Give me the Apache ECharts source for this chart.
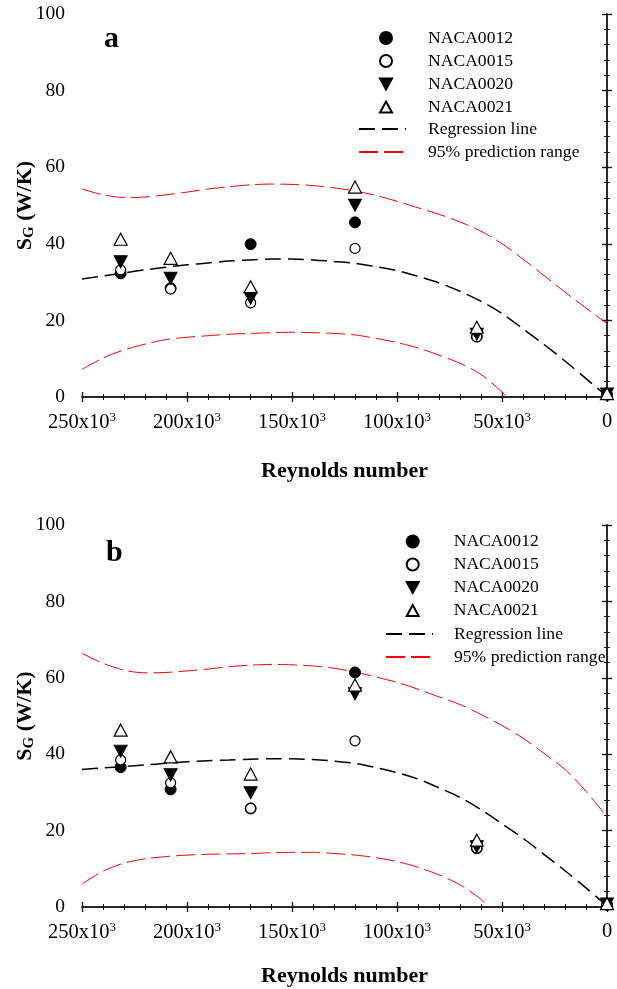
<!DOCTYPE html>
<html><head><meta charset="utf-8">
<script src="https://cdn.jsdelivr.net/npm/echarts@6/dist/echarts.min.js"></script>
<style>html,body{margin:0;padding:0;background:#fff}#c{width:617px;height:989px}</style>
</head><body><div id="c"></div>
<script>
// ---------- data ----------
const seriesNames = ['NACA0012', 'NACA0015', 'NACA0020', 'NACA0021'];
const reynolds = [231600, 207800, 169700, 120000, 62000, 0];

// panel a
const a_NACA0012 = [32.3, 28.4, 39.9, 45.6, 15.8, 0.6];
const a_NACA0015 = [33.2, 28.2, 24.6, 38.8, 15.7, 0.6];
const a_NACA0020 = [35.3, 31.0, 25.8, 50.1, 16.4, 0.8];
const a_NACA0021 = [41.2, 36.2, 28.8, 54.8, 18.2, 0.9];

// panel b
const b_NACA0012 = [36.6, 30.8, 25.8, 61.4, 15.4, 0.6];
const b_NACA0015 = [38.5, 32.5, 25.8, 43.5, 15.4, 0.6];
const b_NACA0020 = [40.8, 34.6, 29.9, 55.8, 15.8, 0.8];
const b_NACA0021 = [46.3, 39.3, 34.8, 58.1, 17.5, 0.9];

// curves
const curveRe = [250000, 240000, 230000, 220000, 210000, 200000, 190000, 180000, 170000, 160000, 150000, 140000, 130000, 120000, 110000, 100000, 90000, 80000, 70000, 60000, 50000, 40000, 30000, 20000, 10000, 0];
const a_regression = [30.8, 31.6, 32.4, 33.2, 33.9, 34.5, 35.0, 35.5, 35.8, 36.0, 36.0, 35.8, 35.4, 34.9, 34.0, 33.0, 31.5, 29.8, 27.6, 25.0, 21.8, 17.8, 13.7, 9.4, 4.8, 0.2];
const a_upper = [54.3, 52.8, 52.1, 52.2, 52.8, 53.5, 54.3, 54.9, 55.4, 55.6, 55.5, 55.2, 54.6, 53.8, 52.6, 51.1, 49.4, 47.7, 45.7, 43.3, 40.0, 36.0, 31.7, 27.4, 23.2, 19.2];
const a_lowerRe = [250000, 240000, 230000, 220000, 210000, 200000, 190000, 180000, 170000, 160000, 150000, 140000, 130000, 120000, 110000, 100000, 90000, 80000, 70000, 60000, 50000, 47500];
const a_lower = [7.2, 10.2, 12.3, 13.8, 15.0, 15.6, 16.0, 16.4, 16.6, 16.8, 16.9, 16.8, 16.6, 16.2, 15.3, 14.2, 12.8, 10.9, 8.8, 5.9, 1.3, 0];

const b_regression = [36.0, 36.4, 36.8, 37.2, 37.6, 38.0, 38.3, 38.5, 38.7, 38.8, 38.8, 38.6, 38.2, 37.6, 36.5, 35.2, 33.5, 31.2, 28.7, 25.5, 21.8, 18.0, 13.8, 9.5, 5.0, 0.3];
const b_upper = [66.4, 63.8, 62.0, 61.3, 61.4, 61.8, 62.3, 62.9, 63.3, 63.5, 63.4, 63.1, 62.5, 61.5, 60.2, 58.8, 57.0, 55.0, 53.0, 50.4, 47.5, 44.2, 40.2, 36.0, 30.3, 23.6];
const b_lowerRe = [250000, 240000, 230000, 220000, 210000, 200000, 190000, 180000, 170000, 160000, 150000, 140000, 130000, 120000, 110000, 100000, 90000, 80000, 70000, 60000, 56500];
const b_lower = [6.0, 9.4, 11.5, 12.6, 13.2, 13.6, 13.8, 13.9, 14.0, 14.2, 14.3, 14.3, 14.0, 13.6, 12.9, 11.9, 10.4, 8.4, 5.8, 2.0, 0];

// tick labels
const xTickValues = [250000, 200000, 150000, 100000, 50000, 0];
const xTickLabels = ['250x10{sup|3}', '200x10{sup|3}', '150x10{sup|3}', '100x10{sup|3}', '50x10{sup|3}', '0'];
const yTickValues = [0, 20, 40, 60, 80, 100];
const yTickLabels = ['0', '20', '40', '60', '80', '100'];

// ---------- chart ----------
const FONT = "'Liberation Serif', 'Times New Roman', serif";
const AX = '#1a1a1a';
const grids = [
  { left: 82, top: 14, width: 525, height: 383, outerBoundsMode: 'none', containLabel: false },
  { left: 82, top: 525, width: 525, height: 382, outerBoundsMode: 'none', containLabel: false }
];
const nameGaps = [63, 58];

function pair(xs, ys) { return xs.map((x, i) => [x, ys[i]]); }

const xAxes = [], yAxes = [];
grids.forEach((g, gi) => {
  const baseX = {
    gridIndex: gi, type: 'value', min: 0, max: 250000, interval: 50000, inverse: true,
    splitLine: { show: false }, minorSplitLine: { show: false },
    axisLine: { show: false, lineStyle: { color: AX, width: 1.5 } },
    axisTick: { show: true, length: 5, lineStyle: { color: AX, width: 1.2 } },
    minorTick: { show: true, splitNumber: 5, length: 3, lineStyle: { color: AX, width: 1 } },
    axisLabel: { show: false }
  };
  xAxes.push(Object.assign({}, baseX, {
    position: 'bottom',
    axisLine: { show: true, lineStyle: { color: AX, width: 1.5 } },
    axisLabel: {
      show: true, showMinLabel: true, showMaxLabel: true, margin: 14, hideOverlap: false,
      color: '#000', fontFamily: FONT, fontSize: 20.5,
      formatter: v => { const i = xTickValues.indexOf(v); return i >= 0 ? xTickLabels[i] : ''; },
      rich: { sup: { fontSize: 13, fontFamily: FONT, color: '#000', verticalAlign: 'top', padding: [0, 0, 10, 0] } }
    },
    name: 'Reynolds number', nameLocation: 'middle', nameGap: nameGaps[gi], nameMoveOverlap: false,
    nameTextStyle: { fontFamily: FONT, fontSize: 22, fontWeight: 'bold', color: '#000' }
  }));
  xAxes.push(Object.assign({}, baseX, { position: 'bottom', axisTick: Object.assign({}, baseX.axisTick, { inside: true }), minorTick: Object.assign({}, baseX.minorTick, { inside: true }) }));
  xAxes.push(Object.assign({}, baseX, { position: 'top', axisLine: { show: true, lineStyle: { color: AX, width: 1.5 } } }));
  xAxes.push(Object.assign({}, baseX, { position: 'top', axisTick: Object.assign({}, baseX.axisTick, { inside: true }), minorTick: Object.assign({}, baseX.minorTick, { inside: true }) }));

  const baseY = {
    gridIndex: gi, type: 'value', min: 0, max: 100, interval: 20,
    splitLine: { show: false }, minorSplitLine: { show: false },
    axisLine: { show: false, lineStyle: { color: AX, width: 1.5 } },
    axisTick: { show: true, length: 5, lineStyle: { color: AX, width: 1.2 } },
    minorTick: { show: true, splitNumber: 5, length: 3, lineStyle: { color: AX, width: 1 } },
    axisLabel: { show: false }
  };
  yAxes.push(Object.assign({}, baseY, {
    position: 'left',
    axisLine: { show: true, lineStyle: { color: AX, width: 1.5 } },
    axisLabel: {
      show: true, margin: 17, color: '#000', fontFamily: FONT, fontSize: 19.5,
      formatter: v => { const i = yTickValues.indexOf(v); return i >= 0 ? yTickLabels[i] : ''; }
    },
    name: '{s|S}{g|G}{s| (W/K)}', nameLocation: 'middle', nameGap: 45, nameMoveOverlap: false,
    nameTextStyle: {
      fontFamily: FONT, fontSize: 22, fontWeight: 'bold', color: '#000',
      rich: {
        s: { fontFamily: FONT, fontSize: 22, fontWeight: 'bold', color: '#000' },
        g: { fontFamily: FONT, fontSize: 15, fontWeight: 'bold', color: '#000', verticalAlign: 'bottom', padding: [8, 0, 0, 0] }
      }
    }
  }));
  yAxes.push(Object.assign({}, baseY, { position: 'left', axisTick: Object.assign({}, baseY.axisTick, { inside: true }), minorTick: Object.assign({}, baseY.minorTick, { inside: true }) }));
  yAxes.push(Object.assign({}, baseY, { position: 'right', axisLine: { show: true, lineStyle: { color: AX, width: 1.5 } } }));
  yAxes.push(Object.assign({}, baseY, { position: 'right', axisTick: Object.assign({}, baseY.axisTick, { inside: true }), minorTick: Object.assign({}, baseY.minorTick, { inside: true }) }));
});

const downTri = 'path://M0,0 L10,0 L5,9 Z';
const upTri = 'path://M5,0 L10,9 L0,9 Z';
const markerStyles = [
  { symbol: 'circle', symbolSize: 11, itemStyle: { color: '#000', borderColor: '#000', borderWidth: 1, opacity: 1 } },
  { symbol: 'circle', symbolSize: 10, itemStyle: { color: '#fff', borderColor: '#000', borderWidth: 1.2, opacity: 1 } },
  { symbol: downTri, symbolSize: [13, 12], itemStyle: { color: '#000', borderColor: '#000', borderWidth: 1, opacity: 1 } },
  { symbol: upTri, symbolSize: [13, 12], itemStyle: { color: '#fff', borderColor: '#000', borderWidth: 1.2, opacity: 1 } }
];

const panelData = [
  { pts: [a_NACA0012, a_NACA0015, a_NACA0020, a_NACA0021], reg: a_regression, up: a_upper, loRe: a_lowerRe, lo: a_lower },
  { pts: [b_NACA0012, b_NACA0015, b_NACA0020, b_NACA0021], reg: b_regression, up: b_upper, loRe: b_lowerRe, lo: b_lower }
];

const hidden = { color: 'rgba(0,0,0,0)', borderColor: 'rgba(0,0,0,0)', borderWidth: 0 };
const series = [];
panelData.forEach((p, gi) => {
  const xi = gi * 4, yi = gi * 4;
  const lineBase = { type: 'line', xAxisIndex: xi, yAxisIndex: yi, showSymbol: false, symbol: 'none', smooth: 0.3, clip: true, silent: true, z: 2, itemStyle: hidden };
  series.push(Object.assign({}, lineBase, { name: 'Regression line', data: pair(curveRe, p.reg), lineStyle: { color: '#000', width: 1.5, type: [16, 7] } }));
  series.push(Object.assign({}, lineBase, { name: '95% prediction range', data: pair(curveRe, p.up), lineStyle: { color: '#ff0000', width: 1, type: [19, 6] } }));
  series.push(Object.assign({}, lineBase, { name: '95% prediction range', data: pair(p.loRe, p.lo), lineStyle: { color: '#ff0000', width: 1, type: [19, 6] } }));
  p.pts.forEach((vals, si) => {
    series.push(Object.assign({ type: 'scatter', name: seriesNames[si], xAxisIndex: xi, yAxisIndex: yi, data: pair(reynolds, vals), z: 5, silent: true }, markerStyles[si]));
  });
});

const legTxt = (pad) => ({ fontFamily: FONT, fontSize: 17.6, color: '#000', lineHeight: 23, padding: [0, 0, 0, pad] });
const legends = [
  { left: 379, top: 26.5, itemWidth: 12, itemHeight: 12, data: seriesNames, textStyle: legTxt(31) },
  { left: 358, top: 117.5, itemWidth: 47, itemHeight: 10, data: ['Regression line', '95% prediction range'], textStyle: legTxt(17) },
  { left: 405.7, top: 530, itemWidth: 12, itemHeight: 12, data: seriesNames, textStyle: legTxt(30) },
  { left: 385, top: 622.5, itemWidth: 47, itemHeight: 10, data: ['Regression line', '95% prediction range'], textStyle: legTxt(16) }
].map(l => Object.assign({ orient: 'vertical', itemGap: 0, selectedMode: false, padding: 0 }, l));

const chart = echarts.init(document.getElementById('c'), null, { renderer: 'canvas' });
chart.setOption({
  animation: false,
  backgroundColor: '#fff',
  grid: grids,
  xAxis: xAxes,
  yAxis: yAxes,
  legend: legends,
  series: series,
  graphic: [
    { type: 'text', left: 104, top: 24, style: { text: 'a', fontFamily: FONT, fontSize: 30, fontWeight: 'bold', fill: '#000' } },
    { type: 'text', left: 106, top: 538, style: { text: 'b', fontFamily: FONT, fontSize: 30, fontWeight: 'bold', fill: '#000' } }
  ]
});
</script>
</body></html>
